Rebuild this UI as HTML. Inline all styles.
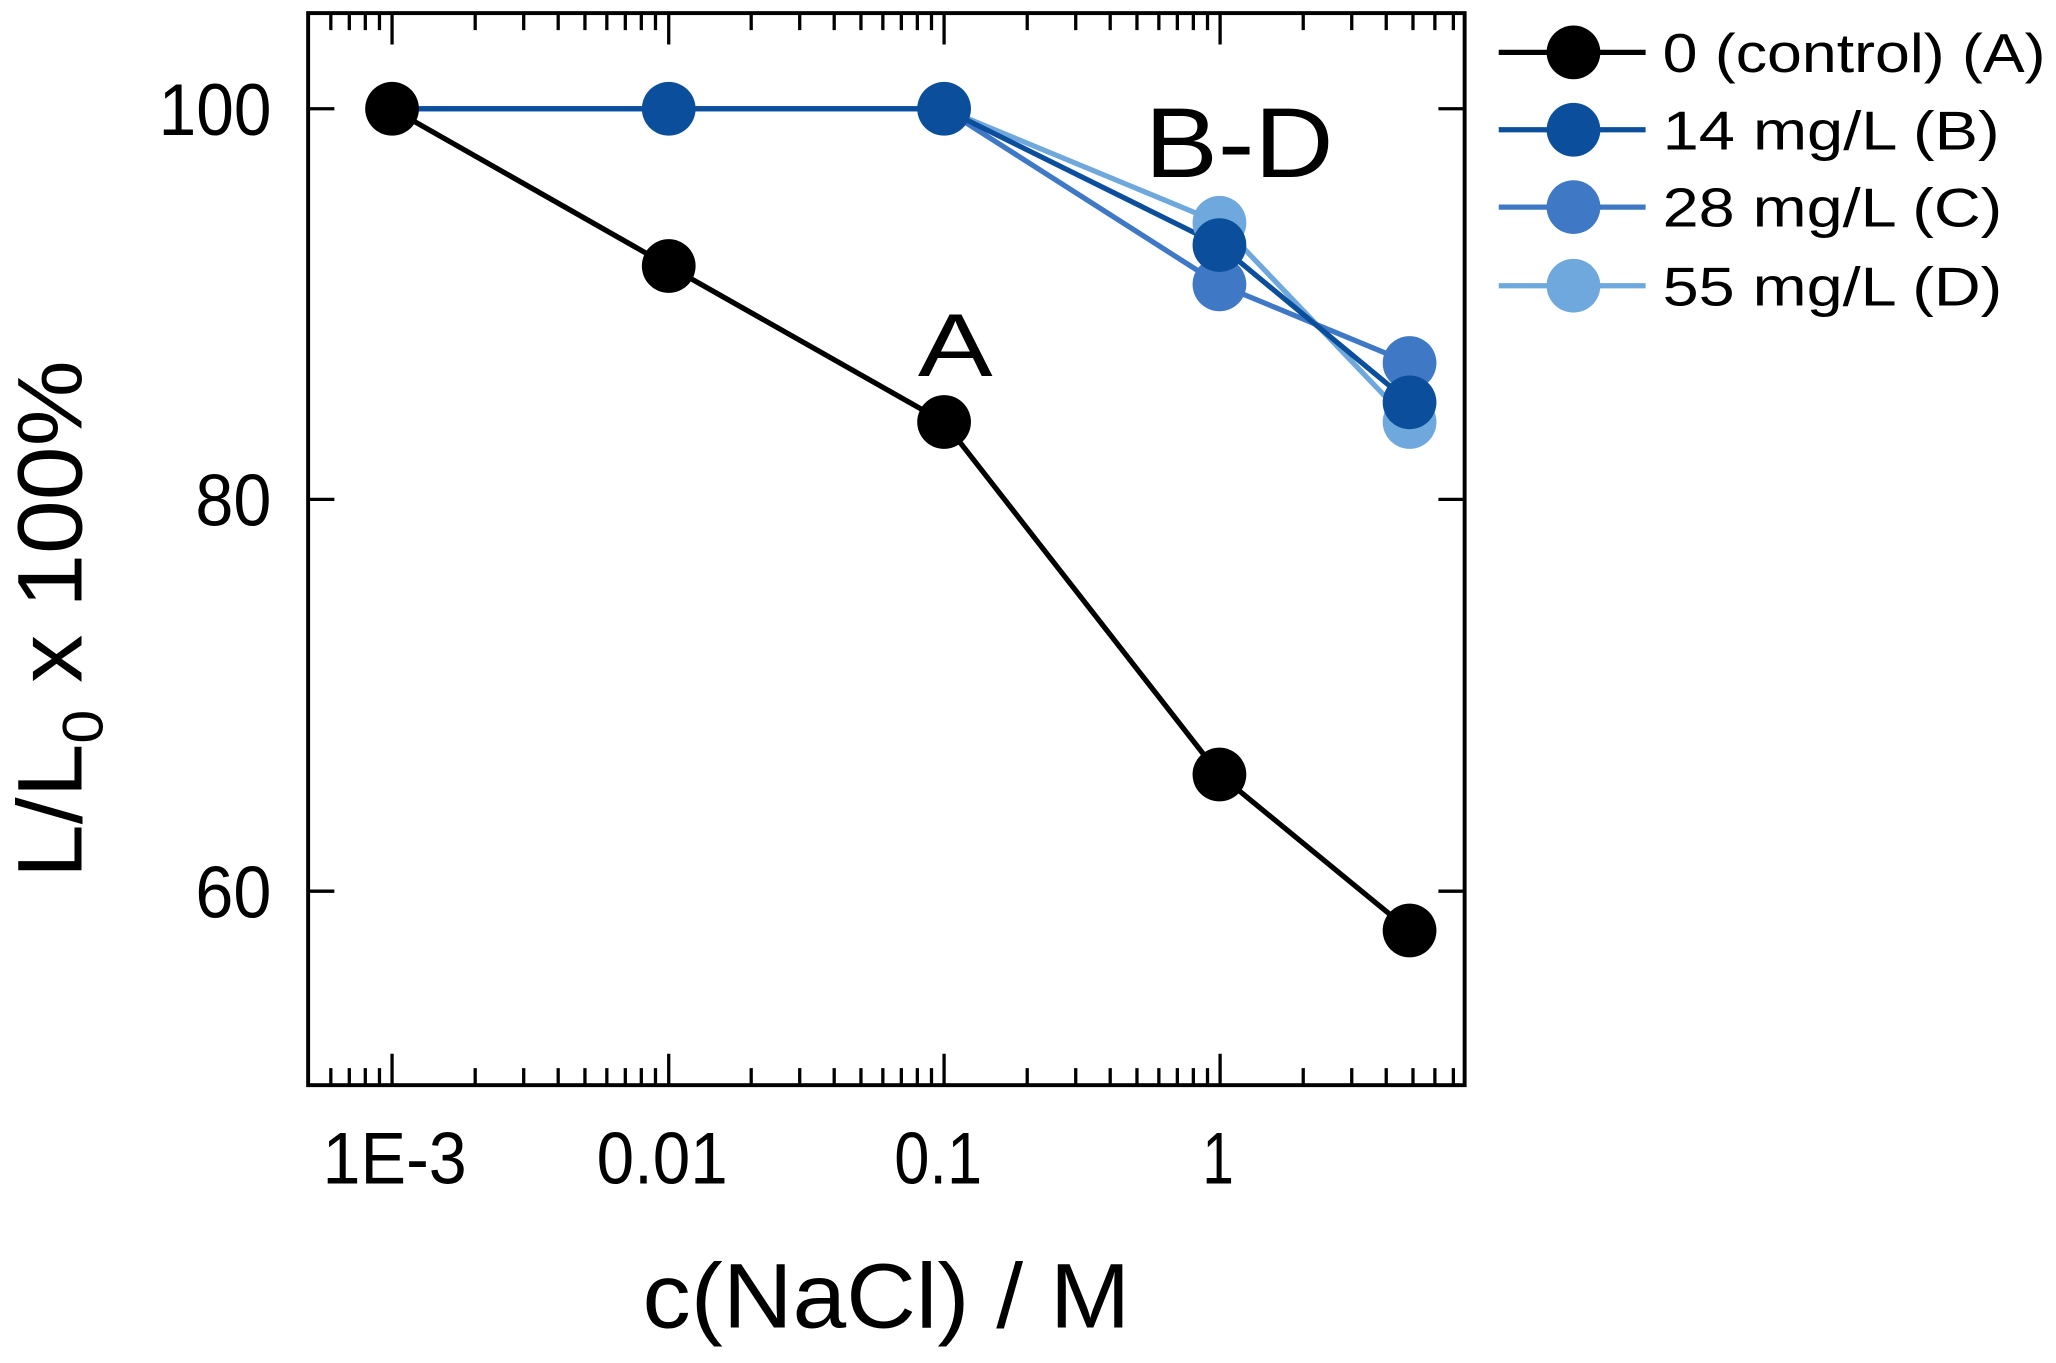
<!DOCTYPE html>
<html><head><meta charset="utf-8"><style>
html,body{margin:0;padding:0;background:#fff;}
svg{display:block;}
text{font-family:"Liberation Sans",sans-serif;fill:#000;}
</style></head><body>
<svg width="2056" height="1363" viewBox="0 0 1568 1040" preserveAspectRatio="none" xmlns="http://www.w3.org/2000/svg">
<rect width="1568" height="1040" fill="#fff"/>
<g stroke="#000" stroke-width="2.5" fill="none">
<rect x="235" y="10" width="882" height="818" stroke-width="3"/>
<path d="M235 83h20M235 381h20M235 680h20M1117 83h-20M1117 381h-20M1117 680h-20"/>
<path id="maj" d="M299 828v-24M510 828v-24M720 828v-24M930.5 828v-24M299 10v24M510 10v24M720 10v24M930.5 10v24"/>
<path d="M252.3 828v-13M266.4 828v-13M278.6 828v-13M289.4 828v-13
M362.4 828v-13M399.4 828v-13M425.7 828v-13M446.1 828v-13M462.8 828v-13M476.9 828v-13M489.1 828v-13M499.9 828v-13
M572.9 828v-13M609.9 828v-13M636.2 828v-13M656.6 828v-13M673.3 828v-13M687.4 828v-13M699.6 828v-13M710.4 828v-13
M783.4 828v-13M820.4 828v-13M846.7 828v-13M867.1 828v-13M883.8 828v-13M897.9 828v-13M910.1 828v-13M920.9 828v-13
M993.9 828v-13M1030.9 828v-13M1057.2 828v-13M1077.6 828v-13M1094.3 828v-13M1108.4 828v-13
M252.3 10v13M266.4 10v13M278.6 10v13M289.4 10v13
M362.4 10v13M399.4 10v13M425.7 10v13M446.1 10v13M462.8 10v13M476.9 10v13M489.1 10v13M499.9 10v13
M572.9 10v13M609.9 10v13M636.2 10v13M656.6 10v13M673.3 10v13M687.4 10v13M699.6 10v13M710.4 10v13
M783.4 10v13M820.4 10v13M846.7 10v13M867.1 10v13M883.8 10v13M897.9 10v13M910.1 10v13M920.9 10v13
M993.9 10v13M1030.9 10v13M1057.2 10v13M1077.6 10v13M1094.3 10v13M1108.4 10v13"/>
</g>
<polyline points="299,83 510,203 720,322 930,591 1075,710" fill="none" stroke="#000" stroke-width="4"/>
<polyline points="299,83 720,83 930,170 1075,322" fill="none" stroke="#6fa8dc" stroke-width="4"/>
<polyline points="299,83 720,83 930,217 1075,277" fill="none" stroke="#3f78c4" stroke-width="4"/>
<polyline points="299,83 720,83 930,187 1075,307" fill="none" stroke="#0b4f9c" stroke-width="4"/>
<circle cx="930" cy="170" r="20.5" fill="#6fa8dc"/><circle cx="1075" cy="322" r="20.5" fill="#6fa8dc"/>
<circle cx="930" cy="217" r="20.5" fill="#3f78c4"/><circle cx="1075" cy="277" r="20.5" fill="#3f78c4"/>
<circle cx="510" cy="83" r="20.5" fill="#0b4f9c"/><circle cx="720" cy="83" r="20.5" fill="#0b4f9c"/>
<circle cx="930" cy="187" r="20.5" fill="#0b4f9c"/><circle cx="1075" cy="307" r="20.5" fill="#0b4f9c"/>
<circle cx="299" cy="83" r="20.5" fill="#000"/><circle cx="510" cy="203" r="20.5" fill="#000"/>
<circle cx="720" cy="322" r="20.5" fill="#000"/><circle cx="930" cy="591" r="20.5" fill="#000"/>
<circle cx="1075" cy="710" r="20.5" fill="#000"/>
<text x="700" y="287" font-size="68" textLength="57" lengthAdjust="spacingAndGlyphs">A</text>
<text x="873" y="135" font-size="76" textLength="144" lengthAdjust="spacingAndGlyphs">B-D</text>
<g font-size="56">
<text x="121" y="103" textLength="86" lengthAdjust="spacingAndGlyphs">100</text>
<text x="149" y="401" textLength="58" lengthAdjust="spacingAndGlyphs">80</text>
<text x="149" y="700" textLength="58" lengthAdjust="spacingAndGlyphs">60</text>
<text x="246" y="903" textLength="110" lengthAdjust="spacingAndGlyphs">1E-3</text>
<text x="455" y="903" textLength="100" lengthAdjust="spacingAndGlyphs">0.01</text>
<text x="682" y="903" textLength="67" lengthAdjust="spacingAndGlyphs">0.1</text>
<text x="917" y="903" textLength="24" lengthAdjust="spacingAndGlyphs">1</text>
</g>
<text x="490" y="1013" font-size="70" textLength="372" lengthAdjust="spacingAndGlyphs">c(NaCl) / M</text>
<text transform="translate(62,670) rotate(-90)" font-size="70" textLength="395" lengthAdjust="spacingAndGlyphs">L/L<tspan font-size="44" dy="16">0</tspan><tspan dy="-16"> x 100%</tspan></text>
<g stroke-width="4">
<line x1="1143" y1="40" x2="1255" y2="40" stroke="#000"/><circle cx="1200" cy="40" r="20.5" fill="#000"/>
<line x1="1143" y1="99" x2="1255" y2="99" stroke="#0b4f9c"/><circle cx="1200" cy="99" r="20.5" fill="#0b4f9c"/>
<line x1="1143" y1="158" x2="1255" y2="158" stroke="#3f78c4"/><circle cx="1200" cy="158" r="20.5" fill="#3f78c4"/>
<line x1="1143" y1="218" x2="1255" y2="218" stroke="#6fa8dc"/><circle cx="1200" cy="218" r="20.5" fill="#6fa8dc"/>
</g>
<g font-size="42">
<text x="1268" y="55" textLength="292" lengthAdjust="spacingAndGlyphs">0 (control) (A)</text>
<text x="1268" y="114" textLength="257" lengthAdjust="spacingAndGlyphs">14 mg/L (B)</text>
<text x="1268" y="173" textLength="259" lengthAdjust="spacingAndGlyphs">28 mg/L (C)</text>
<text x="1268" y="233" textLength="259" lengthAdjust="spacingAndGlyphs">55 mg/L (D)</text>
</g>
</svg>
</body></html>
